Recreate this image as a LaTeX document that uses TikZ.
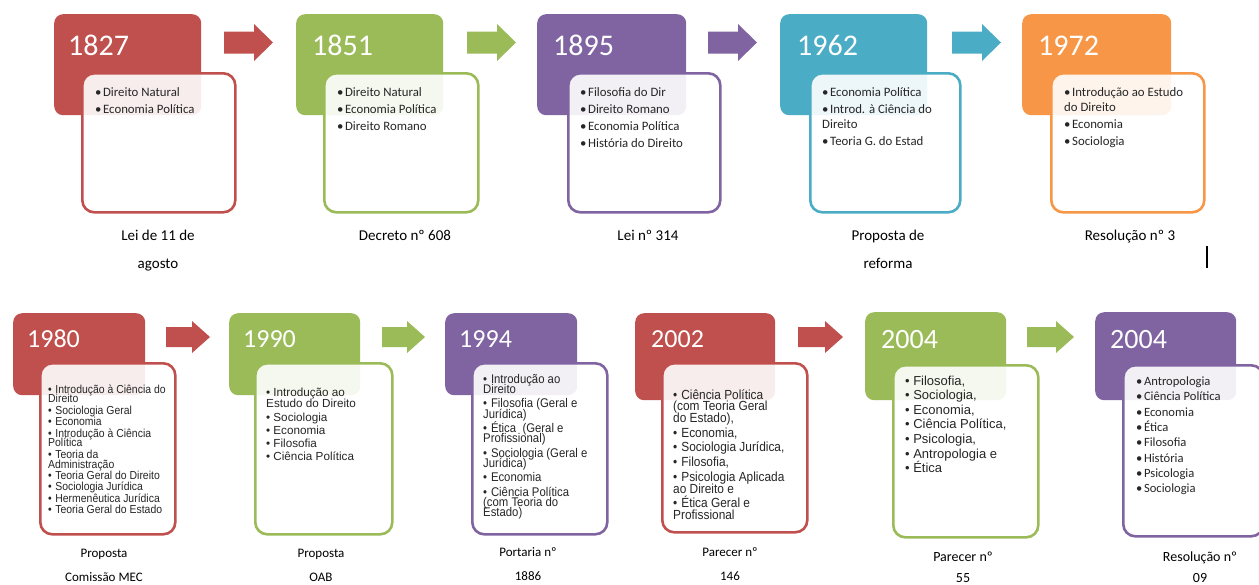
\documentclass[tikz,border=0pt]{standalone}
\usepackage{fontspec}
\setmainfont{Carlito}
\newfontfamily\arial{Liberation Sans}
\newfontfamily\arialn[FakeStretch=0.9]{Liberation Sans}
\usetikzlibrary{calc}
\definecolor{tlred}{HTML}{C0504D}
\definecolor{tlgreen}{HTML}{9BBB59}
\definecolor{tlpurple}{HTML}{8064A2}
\definecolor{tlteal}{HTML}{4BACC6}
\definecolor{tlorange}{HTML}{F79646}
\newlength{\bulind}
\newcommand{\bl}[1]{\par\hangindent=\bulind\hangafter=1\noindent\hbox to\bulind{•\hfil}#1}
\newcommand{\lst}[3][2pt]{\begin{minipage}[t]{#2}\raggedright\setlength{\parskip}{#1}\lineskiplimit=-20pt\setlength{\bulind}{0.62em}#3\end{minipage}}
\newcommand{\twoline}[2]{\begin{tabular}[t]{@{}c@{}}#1\\#2\end{tabular}}
\newcommand{\toplist}{\fontsize{12.8}{15}\selectfont}
\newcommand{\toplaw}{\fontsize{15}{28}\selectfont}
\newcommand{\botlaw}{\fontsize{13}{24}\selectfont}
\tikzset{
    yearbox/.style = {fill=#1, rounded corners=9pt, anchor=north west, inner sep=0pt},
    listbox/.style = {draw=#1, fill=white, fill opacity=0.9, line width=2.6pt, rounded corners=12pt, anchor=north west, inner sep=0pt},
    year-text/.style = {text=white, anchor=base west, inner sep=0pt, font=\fontsize{30}{30}\selectfont},
    year-small/.style = {year-text, font=\fontsize{26}{26}\selectfont},
    list-text/.style = {anchor=base west, inner sep=0pt, text=black!85},
    law-text/.style = {anchor=base, inner sep=0pt},
}

\begin{document}
\begin{tikzpicture}[x=1pt, y=-1pt]
\useasboundingbox (0,0) rectangle (1259,584);

% first row
\node[yearbox=tlred, minimum width=147, minimum height=101] (h1827) at (54,14) {};
\node[listbox=tlred, minimum width=153, minimum height=139] (b1827) at (81,72) {};
\node[year-text] (y1827) at (68,55) {1827};
\node[list-text, font=\toplist] (l1827) at (95,96) {\lst{130pt}{\bl{Direito Natural}\bl{Economia Política}}};
\node[law-text, font=\toplaw] (n1827) at (158,240) {\twoline{Lei de 11 de}{agosto}};
\fill[tlred] (224,31.5) -- ++(30,0) -- ++(0,-7.5) -- ++(19,18.5) -- ++(-19,18.5) -- ++(0,-7.5) -- ++(-30,0) -- cycle;

\node[yearbox=tlgreen, minimum width=147, minimum height=101] (h1851) at (296,14) {};
\node[listbox=tlgreen, minimum width=154, minimum height=139] (b1851) at (323,72) {};
\node[year-text] (y1851) at (312,55) {1851};
\node[list-text, font=\toplist] (l1851) at (337,96) {\lst{130pt}{\bl{Direito Natural}\bl{Economia Política}\bl{Direito Romano}}};
\node[law-text, font=\toplaw] (n1851) at (405,240) {Decreto nº 608};
\fill[tlgreen] (467,31.5) -- ++(30,0) -- ++(0,-7.5) -- ++(19,18.5) -- ++(-19,18.5) -- ++(0,-7.5) -- ++(-30,0) -- cycle;

\node[yearbox=tlpurple, minimum width=149, minimum height=101] (h1895) at (537,14) {};
\node[listbox=tlpurple, minimum width=152, minimum height=139] (b1895) at (567,72) {};
\node[year-text] (y1895) at (553,55) {1895};
\node[list-text, font=\toplist] (l1895) at (580,96) {\lst{130pt}{\bl{Filosofia do Dir}\bl{Direito Romano}\bl{Economia Política}\bl{História do Direito}}};
\node[law-text, font=\toplaw] (n1895) at (648,240) {Lei nº 314};
\fill[tlpurple] (708,31.5) -- ++(30,0) -- ++(0,-7.5) -- ++(19,18.5) -- ++(-19,18.5) -- ++(0,-7.5) -- ++(-30,0) -- cycle;

\node[yearbox=tlteal, minimum width=147, minimum height=101] (h1962) at (780,14) {};
\node[listbox=tlteal, minimum width=150, minimum height=139] (b1962) at (809,72) {};
\node[year-text] (y1962) at (797,55) {1962};
\node[list-text, font=\toplist] (l1962) at (822,96) {\lst{130pt}{\bl{Economia Política}\bl{Introd. à Ciência do\\Direito}\bl{Teoria G. do Estad}}};
\node[law-text, font=\toplaw] (n1962) at (888,240) {\twoline{Proposta de}{reforma}};
\fill[tlteal] (952,31.5) -- ++(30,0) -- ++(0,-7.5) -- ++(19,18.5) -- ++(-19,18.5) -- ++(0,-7.5) -- ++(-30,0) -- cycle;

\node[yearbox=tlorange, minimum width=149, minimum height=101] (h1972) at (1022,14) {};
\node[listbox=tlorange, minimum width=153, minimum height=139] (b1972) at (1050,72) {};
\node[year-text] (y1972) at (1038,55) {1972};
\node[list-text, font=\toplist] (l1972) at (1064,96) {\lst{130pt}{\bl{Introdução ao Estudo\\do Direito}\bl{Economia}\bl{Sociologia}}};
\node[law-text, font=\toplaw] (n1972) at (1130,240) {Resolução nº 3};
\draw[line width=1.3pt] (1207,246) -- (1207,268);

% second row
\node[yearbox=tlred, minimum width=132, minimum height=82] (h1980) at (13,313) {};
\node[listbox=tlred, minimum width=135, minimum height=171] (b1980) at (39,362) {};
\node[year-small] (y1980) at (27,347) {1980};
\node[list-text, font=\arialn\fontsize{11.6}{9.8}\selectfont] (l1980) at (48,393) {\lst[1.6pt]{125pt}{\bl{Introdução à Ciência do\\Direito}\bl{Sociologia Geral}\bl{Economia}\bl{Introdução à Ciência\\Política}\bl{Teoria da\\Administração}\bl{Teoria Geral do Direito}\bl{Sociologia Jurídica}\bl{Hermenêutica Jurídica}\bl{Teoria Geral do Estado}}};
\node[law-text, font=\botlaw] (n1980) at (104,557) {\twoline{Proposta}{Comissão MEC}};
\fill[tlred] (166,327) -- ++(26,0) -- ++(0,-6) -- ++(18,16) -- ++(-18,16) -- ++(0,-6) -- ++(-26,0) -- cycle;

\node[yearbox=tlgreen, minimum width=131, minimum height=82] (h1990) at (229,313) {};
\node[listbox=tlgreen, minimum width=137, minimum height=171] (b1990) at (254,362) {};
\node[year-small] (y1990) at (243,347) {1990};
\node[list-text, font=\arial\fontsize{11.7}{11.7}\selectfont] (l1990) at (266,396) {\lst[1.6pt]{125pt}{\bl{Introdução ao\\Estudo do Direito}\bl{Sociologia}\bl{Economia}\bl{Filosofia}\bl{Ciência Política}}};
\node[law-text, font=\botlaw] (n1990) at (321,557) {\twoline{Proposta}{OAB}};
\fill[tlgreen] (382,327) -- ++(25,0) -- ++(0,-6) -- ++(18,16) -- ++(-18,16) -- ++(0,-6) -- ++(-25,0) -- cycle;

\node[yearbox=tlpurple, minimum width=132, minimum height=82] (h1994) at (445,313) {};
\node[listbox=tlpurple, minimum width=135, minimum height=171] (b1994) at (471,362) {};
\node[year-small] (y1994) at (459,347) {1994};
\node[list-text, font=\arialn\fontsize{12.6}{10.4}\selectfont] (l1994) at (483,383) {\lst[3.9pt]{125pt}{\bl{Introdução ao\\Direito}\bl{Filosofia (Geral e\\Jurídica)}\bl{Ética~ (Geral e\\Profissional)}\bl{Sociologia (Geral e\\Jurídica)}\bl{Economia}\bl{Ciência Política\\(com Teoria do\\Estado)}}};
\node[law-text, font=\botlaw] (n1994) at (528,556) {\twoline{Portaria nº}{1886}};

\node[yearbox=tlred, minimum width=140, minimum height=87] (h2002) at (635,313) {};
\node[listbox=tlred, minimum width=145, minimum height=169] (b2002) at (661,362) {};
\node[year-small] (y2002) at (651,347) {2002};
\node[list-text, font=\arialn\fontsize{13.2}{11.6}\selectfont] (l2002) at (673,399) {\lst[3.2pt]{130pt}{\bl{Ciência Política\\(com Teoria Geral\\do Estado),}\bl{Economia,}\bl{Sociologia Jurídica,}\bl{Filosofia,}\bl{Psicologia Aplicada\\ao Direito e}\bl{Ética Geral e\\Profissional}}};
\node[law-text, font=\botlaw] (n2002) at (730,556) {\twoline{Parecer nº}{146}};
\fill[tlred] (798,327) -- ++(27,0) -- ++(0,-6) -- ++(18,16) -- ++(-18,16) -- ++(0,-6) -- ++(-27,0) -- cycle;

\node[yearbox=tlgreen, minimum width=141, minimum height=88] (h2004a) at (865,312) {};
\node[listbox=tlgreen, minimum width=145, minimum height=172] (b2004a) at (892,364) {};
\node[year-text, font=\fontsize{28}{28}\selectfont] (y2004a) at (881,348) {2004};
\node[list-text, font=\arial\fontsize{13}{14.6}\selectfont] (l2004a) at (905,385) {\lst[0pt]{130pt}{\bl{Filosofia,}\bl{Sociologia,}\bl{Economia,}\bl{Ciência Política,}\bl{Psicologia,}\bl{Antropologia e}\bl{Ética}}};
\node[law-text, font=\fontsize{14}{21.5}\selectfont] (n2004a) at (963,561) {\twoline{Parecer nº}{55}};
\fill[tlgreen] (1027,327) -- ++(29,0) -- ++(0,-6) -- ++(18,16) -- ++(-18,16) -- ++(0,-6) -- ++(-29,0) -- cycle;

\node[yearbox=tlpurple, minimum width=141, minimum height=88] (h2004b) at (1095,312) {};
\node[listbox=tlpurple, minimum width=140, minimum height=171] (b2004b) at (1122,364) {};
\node[year-text, font=\fontsize{28}{28}\selectfont] (y2004b) at (1110,348) {2004};
\node[list-text, font=\fontsize{12.6}{15.3}\selectfont] (l2004b) at (1136,385.5) {\lst[0pt]{115pt}{\bl{Antropologia}\bl{Ciência Política}\bl{Economia}\bl{Ética}\bl{Filosofia}\bl{História}\bl{Psicologia}\bl{Sociologia}}};
\node[law-text, font=\fontsize{14}{21.5}\selectfont] (n2004b) at (1200,561) {\twoline{Resolução nº}{09}};
\end{tikzpicture}
\end{document}
